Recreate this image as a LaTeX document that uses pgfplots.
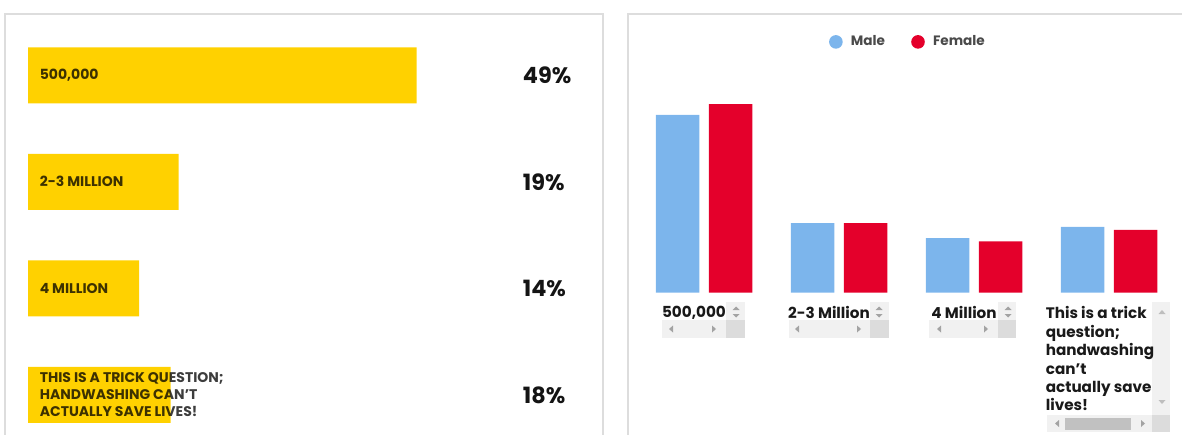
\documentclass[border=0pt]{standalone}
\usepackage{fontspec}
\setmainfont{Poppins}
\usepackage{pgfplots}
\pgfplotsset{compat=1.18}
\definecolor{gold}{HTML}{FFD100}
\definecolor{male}{HTML}{7CB5EC}
\definecolor{female}{HTML}{E4002B}
\definecolor{panel}{HTML}{DDDDDD}
\definecolor{legtxt}{HTML}{4A4A4A}
\definecolor{sbtrack}{HTML}{F1F1F1}
\definecolor{sbcorner}{HTML}{DCDCDC}
\definecolor{sbthumb}{HTML}{C1C1C1}
\definecolor{sbarrow}{HTML}{A3A3A3}
\begin{document}
\begin{tikzpicture}
\useasboundingbox (0,0) rectangle (591pt,217pt);
% panel frames and scrollbar widgets (pixel coordinates)
\begin{scope}[x=0.5pt,y=-0.5pt,shift={(0,217pt)}]
\draw[panel, line width=0.8pt] (5,440) -- (5,14) -- (603,14) -- (603,440);
\draw[panel, line width=0.8pt] (628,440) -- (628,14) -- (1190,14);
% label 1
\fill[sbtrack] (726,302) rectangle (745,320);
\fill[sbtrack] (662,320) rectangle (726,338);
\fill[sbcorner] (726,320) rectangle (745,338);
\fill[sbarrow] (669,329) -- (673,325.5) -- (673,332.5) -- cycle;
\fill[sbarrow] (716,329) -- (712,325.5) -- (712,332.5) -- cycle;
\fill[sbarrow] (736,306.5) -- (732.5,310) -- (739.5,310) -- cycle;
\fill[sbarrow] (736,317.5) -- (732.5,314) -- (739.5,314) -- cycle;
% label 2
\fill[sbtrack] (870,302) rectangle (889,320);
\fill[sbtrack] (789,320) rectangle (870,338);
\fill[sbcorner] (870,320) rectangle (889,338);
\fill[sbarrow] (795,329) -- (799,325.5) -- (799,332.5) -- cycle;
\fill[sbarrow] (861,329) -- (857,325.5) -- (857,332.5) -- cycle;
\fill[sbarrow] (879,306.5) -- (875.5,310) -- (882.5,310) -- cycle;
\fill[sbarrow] (879,317.5) -- (875.5,314) -- (882.5,314) -- cycle;
% label 3
\fill[sbtrack] (998,302) rectangle (1016,320);
\fill[sbtrack] (929,320) rectangle (998,338);
\fill[sbcorner] (998,320) rectangle (1016,338);
\fill[sbarrow] (937,329) -- (941,325.5) -- (941,332.5) -- cycle;
\fill[sbarrow] (988,329) -- (984,325.5) -- (984,332.5) -- cycle;
\fill[sbarrow] (1008,306.5) -- (1004.5,310) -- (1011.5,310) -- cycle;
\fill[sbarrow] (1008,317.5) -- (1004.5,314) -- (1011.5,314) -- cycle;
% label 4
\fill[sbtrack] (1152,302) rectangle (1170,415);
\fill[sbtrack] (1047,415) rectangle (1152,432);
\fill[sbthumb] (1065,418) rectangle (1131,430);
\fill[sbcorner] (1152,415) rectangle (1170,432);
\fill[sbarrow!70] (1162,310) -- (1158.5,314) -- (1165.5,314) -- cycle;
\fill[sbarrow!70] (1162,404) -- (1158.5,400) -- (1165.5,400) -- cycle;
\fill[sbarrow] (1055,423.5) -- (1059,420) -- (1059,427) -- cycle;
\fill[sbarrow] (1145,423.5) -- (1141,420) -- (1141,427) -- cycle;
\end{scope}

% left panel: horizontal bars
\begin{axis}[at={(14pt,0.95pt)}, anchor=south west, scale only axis,
  width=277.55pt, height=197.05pt,
  xmin=0, xmax=70, ymin=-0.35, ymax=3.35, y dir=reverse,
  hide axis, xbar, bar width=28pt, clip=false]
\addplot[fill=gold, draw=none] coordinates {(49,0) (19,1) (14,2) (18,3)};
\begin{scope}[every node/.style={anchor=west, inner sep=0pt, text=black, text opacity=0.76,
   font=\fontsize{7.0}{8.5}\selectfont\bfseries}]
\node[xshift=5.7pt] at (axis cs:0,0) {500,000};
\node[xshift=5.7pt] at (axis cs:0,1) {2-3 MILLION};
\node[xshift=5.7pt] at (axis cs:0,2) {4 MILLION};
\node[xshift=5.7pt, align=left] at (axis cs:0,3) {THIS IS A TRICK QUESTION;\\HANDWASHING CAN'T\\ACTUALLY SAVE LIVES!};
\end{scope}
\begin{scope}[every node/.style={anchor=west, inner sep=0pt, text=black!92,
   font=\fontsize{11.2}{13}\selectfont\bfseries}]
\node at (axis cs:62.35,0) {49\%};
\node at (axis cs:62.35,1) {19\%};
\node at (axis cs:62.35,2) {14\%};
\node at (axis cs:62.35,3) {18\%};
\end{scope}
\end{axis}

% right panel: grouped bars by gender
\begin{axis}[at={(318.25pt,70.65pt)}, anchor=south west, scale only axis,
  width=270pt, height=139.5pt,
  xmin=-0.5, xmax=3.5, ymin=0, ymax=75,
  ybar=4.75pt, bar width=21.75pt,
  axis line style={draw=none}, ytick=\empty, xtick=data,
  major tick length=0pt,
  xticklabels={{500,000\kern10pt}, {2-3 Million\kern10pt}, {4 Million\kern10pt},
    {\begin{tabular}{@{}l@{}}This is a trick\\question;\\handwashing\\can't\\actually save\\lives!\end{tabular}\kern9pt}},
  xticklabel style={anchor=north, inner sep=0pt, yshift=-6.5pt, text=black!90,
     font=\fontsize{7.6}{9.2}\selectfont\bfseries},
  legend style={at={(0.5046,0.899)}, anchor=center, draw=none, fill=none,
     legend columns=2, font=\fontsize{6.8}{8}\selectfont\bfseries, text=legtxt,
     /tikz/every even column/.append style={column sep=11.1pt}},
  legend image code/.code={\fill[#1] (0pt,0pt) circle (3.4pt); \path (5.5pt,0pt);},
  clip=false]
\addplot[fill=male, draw=none] coordinates {(0,47.8) (1,18.7) (2,14.7) (3,17.7)};
\addplot[fill=female, draw=none] coordinates {(0,50.7) (1,18.7) (2,13.8) (3,16.9)};
\legend{Male,Female}
\end{axis}
\end{tikzpicture}
\end{document}
